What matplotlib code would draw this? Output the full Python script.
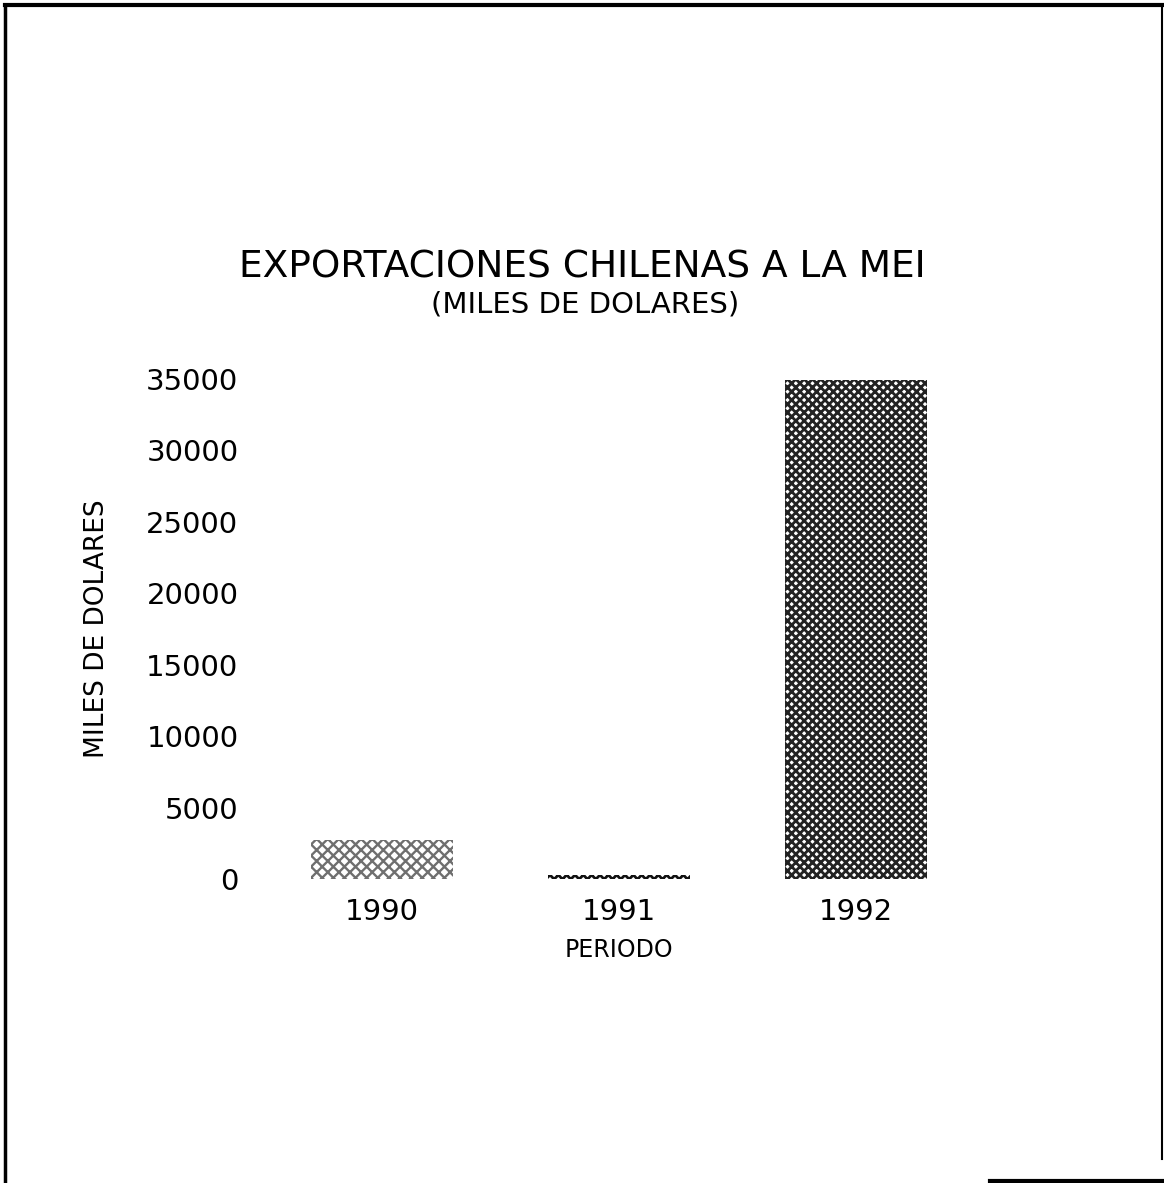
import matplotlib
matplotlib.use("Agg")
import matplotlib.pyplot as plt
from matplotlib.lines import Line2D

years = ["1990", "1991", "1992"]
values = [2700, 300, 34900]
yticks = [0, 5000, 10000, 15000, 20000, 25000, 30000, 35000]

hatches = ["xxx", "xxxx", "xxxx"]
colors = ["#6f6f6f", "#111111", "#222222"]
hatch_lw = [1.7, 2.0, 2.0]

plt.rcParams['font.family'] = ['DejaVu Sans']

fig = plt.figure(figsize=(11.64, 11.83), dpi=100)
ax = fig.add_axes([263.5 / 1164, (1183 - 879) / 1183, 711 / 1164, 500 / 1183])

bars = ax.bar(range(len(years)), values, width=0.6, color="white",
              edgecolor=colors, linewidth=0)
for b, h, lw in zip(bars, hatches, hatch_lw):
    b.set_hatch(h)
    try:
        b.set_hatch_linewidth(lw)
    except AttributeError:
        plt.rcParams['hatch.linewidth'] = lw

ax.set_xlim(-0.5, 2.5)
ax.set_ylim(0, 35000)
ax.set_yticks(yticks)
ax.set_yticklabels([str(v) for v in yticks], fontsize=21)
ax.set_xticks(range(len(years)))
ax.set_xticklabels(years, fontsize=21)
ax.tick_params(axis='y', length=0, pad=18)
ax.tick_params(axis='x', length=0, pad=14)
for s in ax.spines.values():
    s.set_visible(False)

ax.set_xlabel("PERIODO", fontsize=17, labelpad=8)
ax.set_ylabel("MILES DE DOLARES", fontsize=19, labelpad=26)

fig.text(582 / 1164, 1 - 268 / 1183, "EXPORTACIONES CHILENAS A LA MEI",
         ha="center", va="center", fontsize=27)
fig.text(585 / 1164, 1 - 304 / 1183, "(MILES DE DOLARES)",
         ha="center", va="center", fontsize=21)

# page frame
fig.add_artist(Line2D([5 / 1164, 5 / 1164], [0, 1 - 5 / 1183], color="black", lw=2.5, transform=fig.transFigure))
fig.add_artist(Line2D([5 / 1164, 1162 / 1164], [1 - 5 / 1183, 1 - 5 / 1183], color="black", lw=3, transform=fig.transFigure))
fig.add_artist(Line2D([1162 / 1164, 1162 / 1164], [0.02, 1 - 5 / 1183], color="black", lw=1.5, transform=fig.transFigure))
fig.add_artist(Line2D([990 / 1164, 1164 / 1164], [2 / 1183, 2 / 1183], color="black", lw=3, transform=fig.transFigure))

fig.savefig("out.png", dpi=100)
